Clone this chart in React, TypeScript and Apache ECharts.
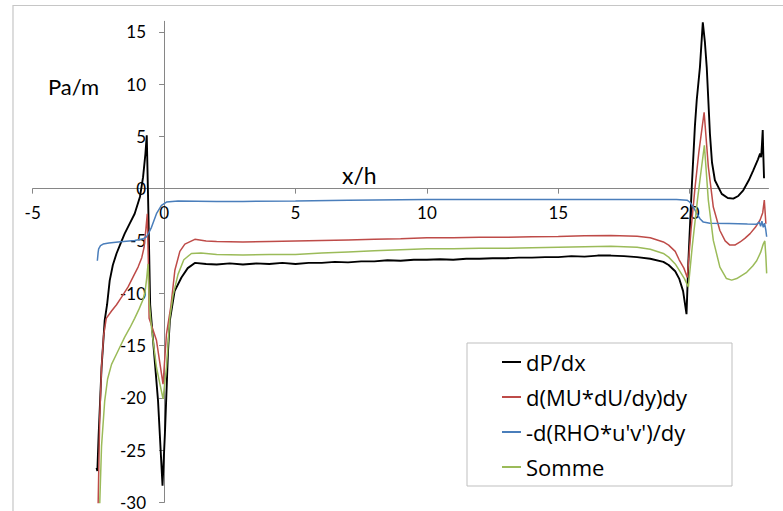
import React, { useEffect, useRef } from "react";
import * as echarts from "echarts";

const seriesNames = ["dP/dx", "d(MU*dU/dy)dy", "-d(RHO*u'v')/dy", "Somme"];
const seriesColors = ["#000000", "#be4b48", "#4a7ebb", "#9bbb59"];

const xTicks = [-5, 0, 5, 10, 15, 20];
const yTicks = [-30, -25, -20, -15, -10, -5, 0, 5, 10, 15];

const dPdx: [number, number][] = [
  [-2.57, -26.7], [-2.54, -27], [-2.49, -23.5], [-2.38, -17.1], [-2.26, -12.6], [-2.17, -11.1],
  [-2.07, -8.8], [-1.95, -7.3], [-1.81, -6.2], [-1.65, -5.2], [-1.5, -4.3], [-1.3, -3.3],
  [-1.12, -2.4], [-0.92, -0.8], [-0.8, 1.1], [-0.71, 3.35], [-0.66, 5.1], [-0.6, -2],
  [-0.53, -11.1], [-0.42, -14.5], [-0.23, -20.3], [-0.06, -28.4], [0.03, -23.5], [0.15, -15.5],
  [0.22, -12.6], [0.4, -9.8], [0.66, -8.5], [0.9, -7.6], [1.17, -7.1],
  [1.6, -7.2], [2, -7.25], [2.5, -7.15], [3, -7.25], [3.5, -7.15], [4, -7.2], [4.5, -7.1],
  [5, -7.2], [5.5, -7.1], [6, -7.1], [6.5, -7.0], [7, -7.05], [7.5, -6.95], [8, -6.95],
  [8.5, -6.85], [9, -6.9], [9.5, -6.8], [10, -6.8], [10.5, -6.75], [11, -6.8], [11.5, -6.7],
  [12, -6.7], [12.5, -6.65], [13, -6.65], [13.5, -6.6], [14, -6.6], [14.5, -6.55], [15, -6.55],
  [15.5, -6.45], [16, -6.5], [16.5, -6.4], [17, -6.4], [17.5, -6.45], [18, -6.55], [18.5, -6.7],
  [19, -7.0], [19.2, -7.3], [19.45, -7.9], [19.6, -8.6], [19.75, -9.8], [19.88, -12.0],
  [19.95, -7], [20.08, 0.15], [20.2, 6], [20.27, 8.5], [20.39, 11.6], [20.5, 15.9],
  [20.58, 14], [20.65, 11.6], [20.77, 5.3], [20.85, 2.5], [20.96, 0.8], [21.22, -0.5],
  [21.45, -0.9], [21.66, -0.96], [21.85, -0.7], [22.04, -0.16], [22.25, 0.8], [22.42, 1.75],
  [22.6, 2.8], [22.68, 3.35], [22.72, 3.0], [22.75, 4.2], [22.78, 5.6], [22.8, 3.5], [22.83, 1.0],
];

const dMu: [number, number][] = [
  [-2.51, -30.2], [-2.45, -22], [-2.38, -17], [-2.3, -14], [-2.2, -12.4], [-2.0, -11.7],
  [-1.81, -11.1], [-1.6, -10.3], [-1.37, -9.4], [-1.15, -8.3], [-0.99, -7.5], [-0.85, -6.6],
  [-0.76, -5.6], [-0.69, -3.8], [-0.64, -2.4], [-0.6, -7], [-0.57, -12.4], [-0.29, -14.5],
  [-0.04, -18.7], [0.09, -13.9], [0.26, -11.2], [0.41, -7.8], [0.6, -6.0], [0.79, -5.3],
  [1.17, -4.85], [1.6, -5.0], [2, -5.05], [3, -5.1],
  [4, -5.05], [5, -5.0], [6, -4.95], [7, -4.9], [8, -4.85], [9, -4.8], [10, -4.7], [11, -4.7],
  [12, -4.65], [13, -4.65], [14, -4.6], [15, -4.57], [16, -4.5], [17, -4.47], [18, -4.55],
  [18.5, -4.7], [19, -5.1], [19.2, -5.4], [19.45, -6.0], [19.6, -6.8], [19.78, -7.6],
  [19.91, -8.5], [20.05, -4], [20.2, 0], [20.35, 3.5], [20.55, 7.3], [20.71, 2.1],
  [20.9, -1.76], [21.15, -4.0], [21.35, -5.0], [21.53, -5.4], [21.72, -5.4], [21.92, -5.1],
  [22.1, -4.75], [22.3, -4.3], [22.5, -3.7], [22.68, -3.0], [22.78, -2.3], [22.84, -1.1],
  [22.87, -2.2], [22.9, -3.35],
];

const dRho: [number, number][] = [
  [-2.54, -6.9], [-2.51, -6.1], [-2.49, -5.75], [-2.42, -5.45], [-2.32, -5.3], [-2.1, -5.2],
  [-1.75, -5.1], [-1.12, -4.95], [-0.8, -4.8], [-0.67, -4.6], [-0.58, -4.2], [-0.48, -3.7],
  [-0.29, -2.4], [-0.1, -1.6], [0.09, -1.28], [0.53, -1.19], [2, -1.22], [3, -1.22],
  [5, -1.19], [7, -1.12], [10, -1.03], [12, -1.03], [15, -1.03], [17, -1.03], [19, -1.04],
  [19.5, -1.05], [19.9, -1.1], [20.01, -1.3], [20.15, -1.8], [20.27, -2.4], [20.4, -2.9],
  [20.52, -3.2], [20.77, -3.3], [21.5, -3.33], [22.2, -3.38], [22.55, -3.4], [22.65, -3.2],
  [22.7, -3.6], [22.75, -3.1], [22.8, -3.7], [22.85, -3.3], [22.9, -4.0], [22.93, -4.6],
];

const somme: [number, number][] = [
  [-2.45, -30.2], [-2.38, -24.6], [-2.26, -20.3], [-2.15, -18.2], [-2.0, -16.8], [-1.75, -15.5],
  [-1.5, -14.2], [-1.3, -13.3], [-1.12, -12.4], [-0.95, -11.5], [-0.8, -10.6], [-0.73, -10],
  [-0.66, -8.5], [-0.61, -7.2], [-0.56, -11], [-0.48, -13.3], [-0.29, -17.1], [-0.04, -20.1],
  [0.09, -17.1], [0.22, -12.3], [0.34, -10.2], [0.53, -8.2], [0.75, -6.8], [1.04, -6.2],
  [1.4, -6.15], [2, -6.3], [3, -6.35], [4, -6.3],
  [5, -6.3], [6, -6.15], [7, -6.05], [8, -5.95], [9, -5.85], [10, -5.75], [11, -5.75],
  [12, -5.7], [13, -5.7], [14, -5.65], [15, -5.6], [16, -5.55], [17, -5.5], [18, -5.6],
  [18.5, -5.8], [19, -6.2], [19.2, -6.55], [19.45, -7.2], [19.6, -7.8], [19.8, -8.6],
  [19.95, -9.4], [20.1, -5.5], [20.3, -1], [20.45, 2], [20.56, 4.15], [20.71, -1.1],
  [20.9, -4.95], [21.15, -7.5], [21.4, -8.6], [21.6, -8.75], [21.79, -8.6], [22.17, -8.0],
  [22.4, -7.4], [22.55, -6.9], [22.7, -6.1], [22.8, -5.3], [22.86, -5.0], [22.9, -6.5],
  [22.93, -8.1],
];

const allData = [dPdx, dMu, dRho, somme];
const FONT = "Lato, 'Noto Sans', sans-serif";
const LEGEND_FONT = "'Open Sans', Lato, sans-serif";

const W = 783;
const H = 511;
const GRID = { left: 32.7, right: 14.5, top: 21.3, bottom: 8.6 };
const X_MIN = -5, X_MAX = 23, Y_MIN = -30, Y_MAX = 16;

export default function App() {
  const ref = useRef<HTMLDivElement>(null);
  useEffect(() => {
    document.body.style.margin = "0";
    const chart = echarts.init(ref.current!, null, { renderer: "svg" });
    const gw = W - GRID.left - GRID.right;
    const gh = H - GRID.top - GRID.bottom;
    const yZeroFromBottom = ((0 - Y_MIN) / (Y_MAX - Y_MIN)) * gh;
    const xZeroFromLeft = ((0 - X_MIN) / (X_MAX - X_MIN)) * gw;
    chart.setOption({
      animation: false,
      backgroundColor: "#ffffff",
      grid: { ...GRID, containLabel: false },
      xAxis: {
        type: "value",
        min: X_MIN,
        max: X_MAX,
        interval: 5,
        position: "bottom",
        offset: -yZeroFromBottom,
        axisLine: { onZero: false, lineStyle: { color: "#868686", width: 1 } },
        axisTick: { show: true, length: 5, customValues: xTicks, lineStyle: { color: "#868686" } },
        axisLabel: { customValues: xTicks, margin: 15, fontSize: 17, color: "#000", fontFamily: FONT },
        splitLine: { show: false },
      },
      yAxis: {
        type: "value",
        min: Y_MIN,
        max: Y_MAX,
        interval: 5,
        position: "left",
        offset: -xZeroFromLeft,
        axisLine: { show: true, onZero: false, lineStyle: { color: "#868686", width: 1 } },
        axisTick: { show: true, length: 5, customValues: yTicks, lineStyle: { color: "#868686" } },
        axisLabel: { customValues: yTicks, margin: 18, fontSize: 17, color: "#000", fontFamily: FONT },
        splitLine: { show: false },
      },
      legend: {
        data: seriesNames,
        orient: "vertical",
        left: 502,
        top: 351,
        itemWidth: 19,
        itemHeight: 2,
        icon: "rect",
        itemGap: 13,
        padding: 0,
        z: 20,
        textStyle: { fontSize: 22, lineHeight: 20.5, color: "#000", fontFamily: LEGEND_FONT },
      },
      graphic: [
        {
          type: "rect",
          shape: { x: 13, y: 5.5, width: 800, height: 600 },
          style: { fill: "none", stroke: "#c6c6c6", lineWidth: 1.2 },
          silent: true,
          z: -10,
        },
        {
          type: "rect",
          shape: { x: 467, y: 343, width: 265, height: 143 },
          style: { fill: "#ffffff", stroke: "#bfbfbf", lineWidth: 1 },
          silent: true,
          z: 1,
        },
        {
          type: "text",
          x: 48,
          y: 86,
          style: { text: "Pa/m", fontSize: 22, fontFamily: FONT, fill: "#000", textVerticalAlign: "middle" },
          z: 10,
        },
        {
          type: "text",
          x: 342,
          y: 175,
          style: { text: "x/h", fontSize: 23, fontFamily: FONT, fill: "#000", textVerticalAlign: "middle" },
          z: 10,
        },
      ],
      series: allData.map((d, i) => ({
        name: seriesNames[i],
        type: "line",
        data: d,
        showSymbol: false,
        symbol: "none",
        clip: true,
        color: seriesColors[i],
        lineStyle: { color: seriesColors[i], width: i === 0 ? 1.9 : 1.5 },
        z: i === 0 ? 2 : 3,
      })),
    });
    return () => chart.dispose();
  }, []);
  return <div ref={ref} style={{ width: W, height: H }} />;
}
